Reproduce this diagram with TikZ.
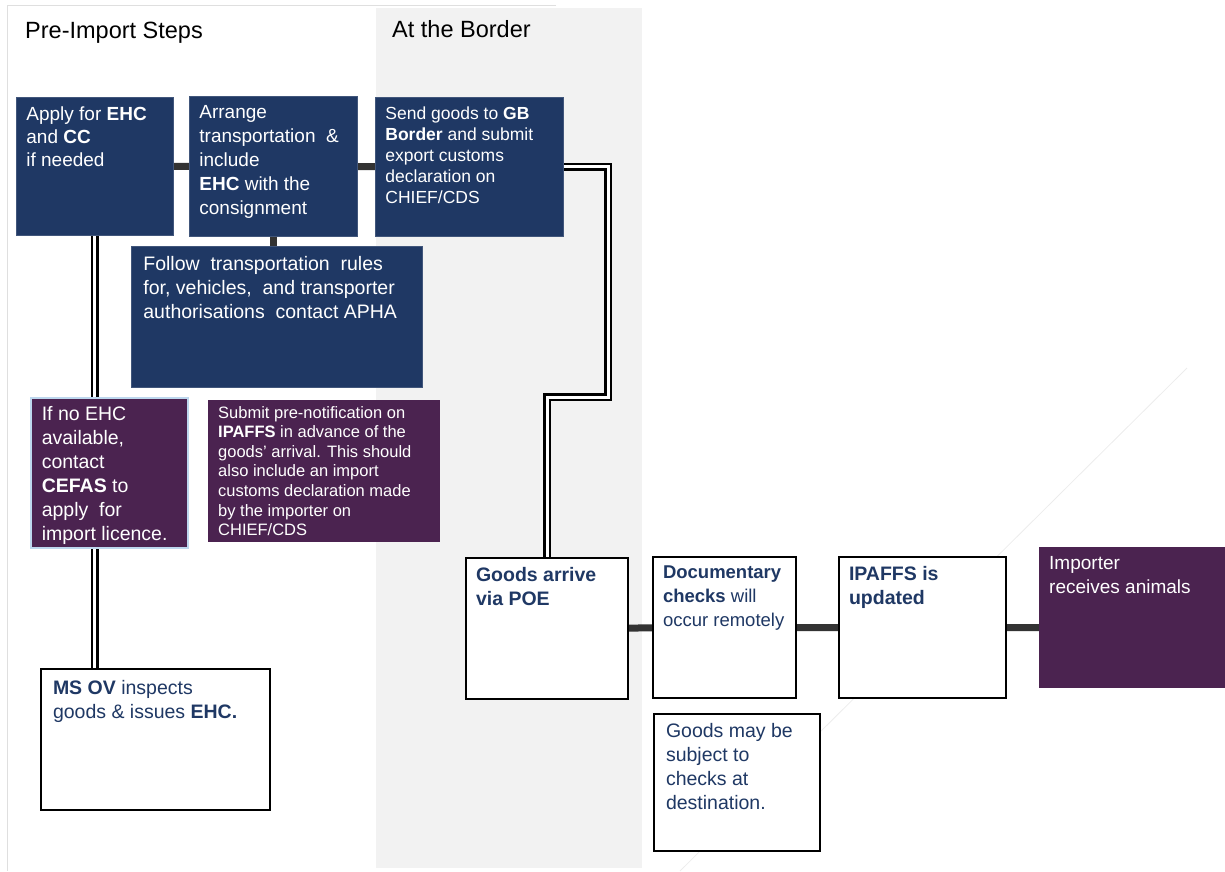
\documentclass[tikz,border=0pt]{standalone}
\usepackage{fontspec}
\setmainfont{Liberation Sans}
\usepackage{tikz}
\usetikzlibrary{
positioning,
backgrounds,
calc
}
\usepackage{xcolor}

\definecolor{navy}{HTML}{1F3864}
\definecolor{plum}{HTML}{4B2350}
\definecolor{paleblue}{HTML}{BDD7EE}
\definecolor{linkgrey}{HTML}{333333}
\definecolor{inktext}{HTML}{1F3864}

% box text: full width, full height, text
\newcommand{\cell}[3]{\parbox[t][\dimexpr#2pt-18pt\relax][t]{\dimexpr#1pt-20pt\relax}{\raggedright#3}}

\tikzset{
fs/.style 2 args={font=\fontsize{#1}{#2}\selectfont},
stepbase/.style={anchor=north west,inner xsep=10pt,inner ysep=9pt,fs={19}{23}},
navybox/.style={stepbase,fill=navy,draw=navy!85!white,line width=0.8pt,text=white},
plumbox/.style={stepbase,fill=plum,text=white},
whitebox/.style={stepbase,fill=white,draw=black,line width=2pt,text=inktext},
heading/.style={anchor=base west,inner sep=0pt,fs={23.5}{28}},
thicklink/.style={draw=linkgrey,line width=7pt},
dbllink/.style={draw=black,line width=2.8pt,double=white,double distance=3pt}
}

\begin{document}
\begin{tikzpicture}[x=1pt,y=-1pt]
    \useasboundingbox (0,0) rectangle (1225,871);
    \begin{scope}[on background layer]
      \draw[gray!25,line width=1pt] (556,5) -- (7,5) -- (7,871);
      \fill[gray!10] (376,8) rectangle (642,868);
      \draw[gray!15,line width=0.8pt] (1187,368) -- (680,871);
    \end{scope}

    \node[heading] (preimport) at (25,38) {Pre-Import Steps};
    \node[heading] (border) at (392,37) {At the Border};

    % pre-import steps
    \node[navybox] (apply) at (16,97) {\cell{157}{138}{Apply for \textbf{EHC}\\and \textbf{CC}\\if needed}};
    \node[navybox,fs={19}{24}] (arrange) at (189,96) {\cell{168}{140}{Arrange\\transportation~~\&\\include\\\textbf{EHC} with the\\consignment}};
    \node[navybox,fs={17.5}{21}] (send) at (375,97) {\cell{188}{139}{Send goods to \textbf{GB}\\\textbf{Border} and submit\\export customs\\declaration on\\CHIEF/CDS}};
    \node[navybox,fs={19.5}{24},inner xsep=12pt,inner ysep=10pt] (follow) at (131,246) {\cell{287}{139}{Follow~ transportation~ rules\\for, vehicles, ~and transporter\\authorisations~ contact APHA}};
    \node[plumbox,draw=paleblue,line width=1.6pt,fs={19.5}{24},inner xsep=11pt] (noehc) at (30,397) {\cell{155}{150}{If no EHC\\available,\\contact\\\textbf{CEFAS} to\\apply~ for\\import licence.}};
    \node[plumbox,fs={16.5}{19.6},inner ysep=6pt] (ipaffs) at (208,400) {\cell{232}{148}{Submit pre-notification on\\\textbf{IPAFFS} in advance of the\\goods' arrival. This should\\also include an import\\customs declaration made\\by the importer on\\CHIEF/CDS}};
    \node[whitebox,fs={19.5}{24},inner xsep=12pt,inner ysep=11pt] (msov) at (40,668) {\cell{225}{137}{\textbf{MS OV} inspects\\goods \& issues \textbf{EHC.}}};

    % at the border
    \node[whitebox,fs={19.5}{24}] (arrive) at (465,557) {\cell{162}{141}{\textbf{Goods arrive\\via POE}}};
    \node[whitebox,fs={18.5}{24}] (docs) at (652,556) {\cell{143}{141}{\textbf{Documentary\\checks} will\\occur remotely}};
    \node[whitebox,fs={19.5}{24}] (updated) at (838,556) {\cell{167}{141}{\textbf{IPAFFS is\\updated}}};
    \node[plumbox,fs={19}{24}] (importer) at (1039,547) {\cell{186}{141}{Importer\\receives animals}};
    \node[whitebox,fs={19.5}{24},inner xsep=12pt] (destination) at (653,713) {\cell{162}{137}{Goods may be\\subject to\\checks at\\destination.}};

    \coordinate (jog) at (608,397);
    \begin{scope}[on background layer]
      \draw[thicklink] (apply) -- (arrange) -- (send);
      \draw[thicklink] (arrange.south) -- (arrange.south |- follow.north);
      \draw[dbllink] (apply.south) -- (apply.south |- msov.north);
      \draw[dbllink] (send.east) -| (jog) -| (arrive.north);
      \draw[thicklink] (arrive) -- (docs) -- (updated) -- (updated -| importer);
    \end{scope}
\end{tikzpicture}
\end{document}
